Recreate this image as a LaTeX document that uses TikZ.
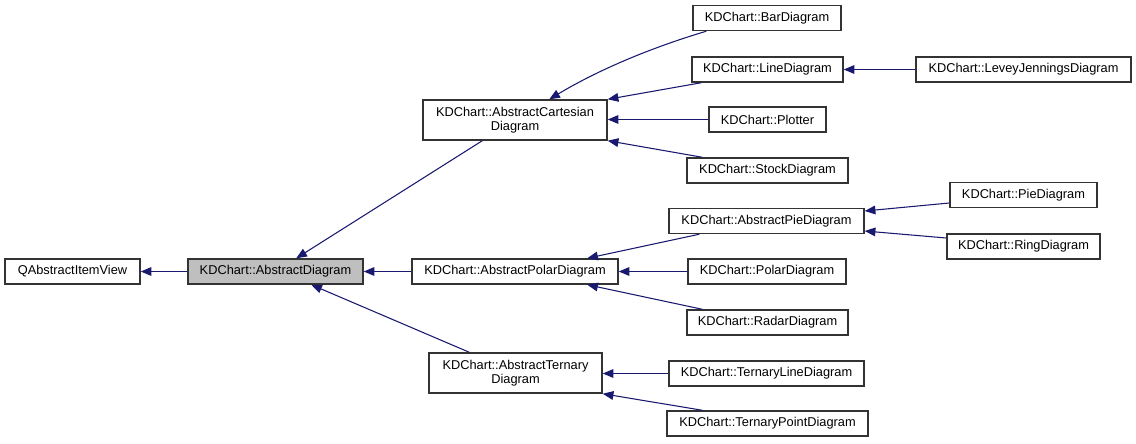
\documentclass[tikz,border=0pt]{standalone}
\usepackage{fontspec}
\setmainfont{Liberation Sans}
\usetikzlibrary{arrows.meta,calc}
\definecolor{edgecol}{HTML}{191970}
\definecolor{hilite}{HTML}{BFBFBF}
\definecolor{boxline}{HTML}{333333}
\tikzset{
  box/.style={draw=boxline, line width=1.1pt, fill=white, inner sep=0pt, align=center,
    font=\fontsize{9.6pt}{10.8pt}\selectfont},
  sbox/.style={box, minimum height=18.75pt},
  dbox/.style={box, minimum height=30pt},
  edge/.style={draw=edgecol, line width=0.8pt, -{Triangle[length=8pt,width=6.5pt]}},
}
\begin{document}
\begin{tikzpicture}[x=0.75pt,y=-0.75pt]
\useasboundingbox (0,0) rectangle (1136,443);
% nodes
\node[sbox, minimum width=101.25pt] (qaiv) at (72.5,271.5) {QAbstractItemView};
\node[sbox, minimum width=131.25pt, fill=hilite] (ad) at (275.5,271.5) {KDChart::AbstractDiagram};
\node[dbox, minimum width=138pt] (cart) at (515,120) {KDChart::AbstractCartesian\\Diagram};
\node[sbox, minimum width=154.5pt] (polar) at (515,271.5) {KDChart::AbstractPolarDiagram};
\node[dbox, minimum width=129.75pt] (tern) at (515.5,373) {KDChart::AbstractTernary\\Diagram};
\node[sbox, minimum width=111pt] (bar) at (767,18) {KDChart::BarDiagram};
\node[sbox, minimum width=113.25pt] (line) at (767.5,69.5) {KDChart::LineDiagram};
\node[sbox, minimum width=161.25pt] (levey) at (1023.5,69.5) {KDChart::LeveyJenningsDiagram};
\node[sbox, minimum width=87.75pt] (plotter) at (767.5,119.5) {KDChart::Plotter};
\node[sbox, minimum width=120.75pt] (stock) at (767.5,170.5) {KDChart::StockDiagram};
\node[sbox, minimum width=146.25pt] (apie) at (766.5,221) {KDChart::AbstractPieDiagram};
\node[sbox, minimum width=110.25pt] (pie) at (1023.5,195) {KDChart::PieDiagram};
\node[sbox, minimum width=114.75pt] (ring) at (1023.5,246.5) {KDChart::RingDiagram};
\node[sbox, minimum width=118.5pt] (polard) at (767,271.5) {KDChart::PolarDiagram};
\node[sbox, minimum width=120.75pt] (radar) at (767.5,322.5) {KDChart::RadarDiagram};
\node[sbox, minimum width=146.25pt] (tline) at (766.5,373.5) {KDChart::TernaryLineDiagram};
\node[sbox, minimum width=150.75pt] (tpoint) at (767.5,423.5) {KDChart::TernaryPointDiagram};
% edges
\draw[edge] (ad.west) -- (qaiv.east);
\draw[edge] ($(cart.south west)+(60,0)$) -- ($(ad.north west)+(109,0)$);
\draw[edge] (polar.west) -- (ad.east);
\draw[edge] ($(tern.north west)+(41,0)$) -- ($(ad.south west)+(124,0)$);
\draw[edge] ($(bar.south west)+(14,0)$) .. controls (660,45) and (605,66) .. ($(cart.north west)+(127,0)$);
\draw[edge] ($(line.south west)+(10,0)$) -- (cart.north east);
\draw[edge] (plotter.west) -- (plotter.west -| cart.east);
\draw[edge] ($(stock.north west)+(16,0)$) -- (cart.south east);
\draw[edge] (levey.west) -- (line.east);
\draw[edge] ($(apie.south west)+(31,0)$) -- ($(polar.north west)+(176,0)$);
\draw[edge] (polard.west) -- (polar.east);
\draw[edge] ($(radar.north west)+(16,0)$) -- ($(polar.south west)+(176,0)$);
\draw[edge] ($(pie.west)+(0,8)$) -- ($(apie.east)+(0,-10)$);
\draw[edge] ($(ring.west)+(0,-8.5)$) -- ($(apie.east)+(0,10)$);
\draw[edge] (tline.west) -- (tline.west -| tern.east);
\draw[edge] ($(tpoint.north west)+(36,0)$) -- (tern.south east);
\end{tikzpicture}
\end{document}
